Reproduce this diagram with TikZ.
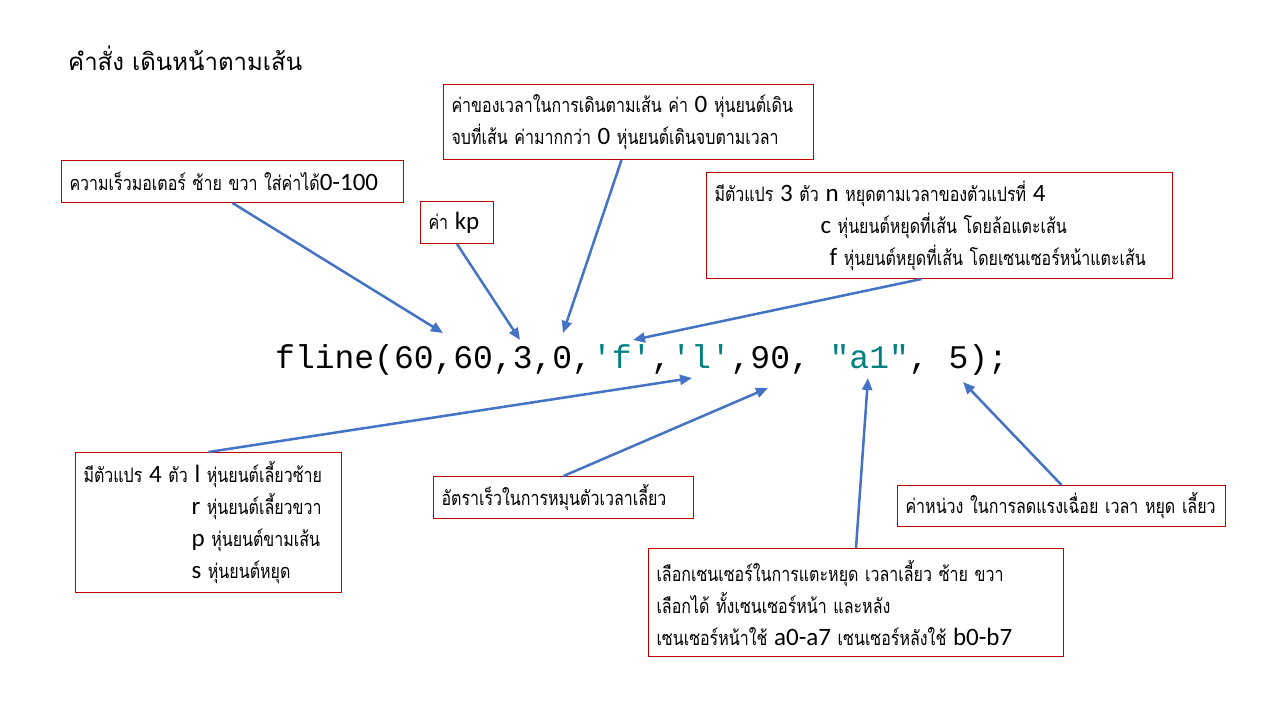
\documentclass[tikz,border=0pt]{standalone}
\usepackage{fontspec}
\newfontfamily\thaifont[Script=Thai, FakeStretch=0.8]{Loma}
\newfontfamily\titlefont[Script=Thai]{Loma}
\newfontfamily\latfont{Carlito}
\setmonofont{Liberation Mono}
\usetikzlibrary{arrows.meta}
\definecolor{boxred}{RGB}{192,0,0}
\definecolor{arrowblue}{RGB}{68,114,196}
\definecolor{codeteal}{RGB}{0,128,128}
\newcommand\La[1]{{\latfont\fontsize{25}{32}\selectfont #1}}
\tikzset{
  note/.style={draw=boxred, line width=1pt, fill=white, anchor=north west,
    inner xsep=8pt, inner ysep=0pt, align=left,
    font=\thaifont\fontsize{20}{32}\selectfont},
  pointer/.style={draw=arrowblue, line width=2.5pt,
    -{Triangle[length=12pt,width=10pt]}}
}
\begin{document}
\begin{tikzpicture}[x=1pt,y=-1pt]
\useasboundingbox[fill=white] (0,0) rectangle (1280,720);

\node[anchor=base west, inner sep=0pt, font=\titlefont\fontsize{24}{26}\selectfont] (title) at (68,70) {คำสั่ง เดินหน้าตามเส้น};

\node[anchor=base west, inner sep=0pt, font=\ttfamily\fontsize{33}{33}\selectfont] (code) at (275,368)
  {fline(60,60,3,0,\textcolor{codeteal}{'f'},\textcolor{codeteal}{'l'},90, \textcolor{codeteal}{"a1"}, 5);};

\node[note, text width=354pt, minimum height=75pt] (time) at (443,84)
  {\mbox{ค่าของเวลาในการเดินตามเส้น ค่า \La{0} หุ่นยนต์เดิน}\\\mbox{จบที่เส้น ค่ามากกว่า \La{0} หุ่นยนต์เดินจบตามเวลา}};

\node[note, text width=326pt, minimum height=42pt] (speed) at (61,160)
  {\mbox{ความเร็วมอเตอร์ ซ้าย ขวา ใส่ค่าได้\La{0-100}}};

\node[note, text width=57pt, minimum height=42pt] (kp) at (420,201)
  {\mbox{ค่า \La{kp}}};

\node[note, text width=450pt, minimum height=106pt] (stop) at (706,172)
  {\mbox{มีตัวแปร \La{3} ตัว \La{n} หยุดตามเวลาของตัวแปรที่ \La{4}}\\
   \mbox{\hspace*{106pt}\La{c} หุ่นยนต์หยุดที่เส้น โดยล้อแตะเส้น}\\
   \mbox{\hspace*{115pt}\La{f} หุ่นยนต์หยุดที่เส้น โดยเซนเซอร์หน้าแตะเส้น}};

\node[note, text width=250pt, minimum height=140pt] (turn) at (75,452)
  {\mbox{มีตัวแปร \La{4} ตัว \La{l} หุ่นยนต์เลี้ยวซ้าย}\\
   \mbox{\hspace*{108pt}\La{r} หุ่นยนต์เลี้ยวขวา}\\
   \mbox{\hspace*{108pt}\La{p} หุ่นยนต์ขามเส้น}\\
   \mbox{\hspace*{108pt}\La{s} หุ่นยนต์หยุด}};

\node[note, text width=244pt, minimum height=42pt] (rate) at (433,476)
  {\mbox{อัตราเร็วในการหมุนตัวเวลาเลี้ยว}};

\node[note, text width=312pt, minimum height=41pt] (delay) at (897,485)
  {\mbox{ค่าหน่วง ในการลดแรงเฉื่อย เวลา หยุด เลี้ยว}};

\node[note, text width=399pt, minimum height=108pt] (sensor) at (648,548)
  {\mbox{เลือกเซนเซอร์ในการแตะหยุด เวลาเลี้ยว ซ้าย ขวา}\\
   \mbox{เลือกได้ ทั้งเซนเซอร์หน้า และหลัง}\\
   \mbox{เซนเซอร์หน้าใช้ \La{a0-a7} เซนเซอร์หลังใช้ \La{b0-b7}}};

\coordinate (tSpeed) at (443,333);
\coordinate (tKp) at (520,340);
\coordinate (tTime) at (563,333);
\coordinate (tStop) at (633,340);
\coordinate (tTurn) at (692,378);
\coordinate (tRate) at (768,388);
\coordinate (tSensor) at (868,378);
\coordinate (tDelay) at (963,382);

\draw[pointer] (speed.south) -- (tSpeed);
\draw[pointer] (kp.south) -- (tKp);
\draw[pointer] ([xshift=-7pt]time.south) -- (tTime);
\draw[pointer] ([xshift=-18pt]stop.south) -- (tStop);
\draw[pointer] (turn.north) -- (tTurn);
\draw[pointer] (rate.north) -- (tRate);
\draw[pointer] (sensor.north) -- (tSensor);
\draw[pointer] (delay.north) -- (tDelay);
\end{tikzpicture}
\end{document}
